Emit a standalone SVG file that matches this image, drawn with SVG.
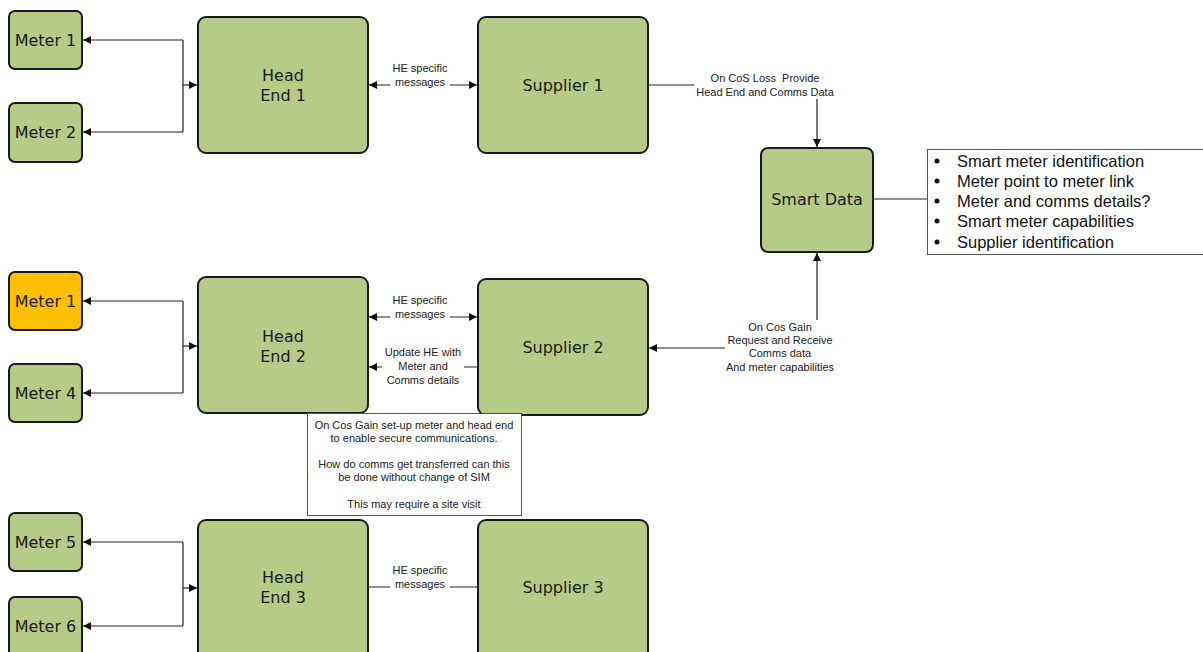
<svg xmlns="http://www.w3.org/2000/svg" width="1203" height="652" viewBox="0 0 1203 652">
  <style>
    .box { fill: #b7cb89; stroke: #1a1a1a; stroke-width: 2; }
    .alert { fill: #ffc000; stroke: #1a1a1a; stroke-width: 2; }
    .big { font-family: "DejaVu Sans", Verdana, sans-serif; font-size: 16px; fill: #1a1a1a; text-anchor: middle; }
    .small { font-family: "Liberation Sans", Arial, sans-serif; font-size: 11px; fill: #222; text-anchor: middle; }
    .list { font-family: "Liberation Sans", Arial, sans-serif; font-size: 16.5px; fill: #111; }
    .wire { fill: none; stroke: #222; stroke-width: 1.2; }
    .bg { fill: #ffffff; }
    .panel { fill: #ffffff; stroke: #555; stroke-width: 1; }
  </style>
  <defs>
    <marker id="arrow" viewBox="0 0 10 10" refX="10" refY="5" markerWidth="8" markerHeight="8" markerUnits="userSpaceOnUse" orient="auto-start-reverse">
      <path d="M0,0 L10,5 L0,10 z" fill="#111"/>
    </marker>
  </defs>

  <rect width="1203" height="652" fill="#ffffff"/>

  <!-- connectors -->
  <g id="connectors">
    <!-- group 1 -->
    <path class="wire" d="M183,40 L83,40" marker-end="url(#arrow)"/>
    <path class="wire" d="M183,132 L83,132" marker-end="url(#arrow)"/>
    <path class="wire" d="M183,40 L183,132"/>
    <path class="wire" d="M183,85 L197,85" marker-end="url(#arrow)"/>
    <path class="wire" d="M369,85 L477,85" marker-start="url(#arrow)" marker-end="url(#arrow)"/>
    <path class="wire" d="M648,85 L817,85 L817,147" marker-end="url(#arrow)"/>
    <path class="wire" d="M873,199 L927,199"/>

    <!-- group 2 -->
    <path class="wire" d="M183,301 L83,301" marker-end="url(#arrow)"/>
    <path class="wire" d="M183,393 L83,393" marker-end="url(#arrow)"/>
    <path class="wire" d="M183,301 L183,393"/>
    <path class="wire" d="M183,346 L197,346" marker-end="url(#arrow)"/>
    <path class="wire" d="M369,317 L477,317" marker-start="url(#arrow)" marker-end="url(#arrow)"/>
    <path class="wire" d="M478,367 L369,367" marker-end="url(#arrow)"/>
    <path class="wire" d="M649,348 L817,348 L817,253" marker-start="url(#arrow)" marker-end="url(#arrow)"/>

    <!-- group 3 -->
    <path class="wire" d="M183,542 L83,542" marker-end="url(#arrow)"/>
    <path class="wire" d="M183,626 L83,626" marker-end="url(#arrow)"/>
    <path class="wire" d="M183,542 L183,626"/>
    <path class="wire" d="M183,588 L197,588" marker-end="url(#arrow)"/>
    <path class="wire" d="M368,587 L478,587"/>

    <!-- connector labels -->
    <g id="lbl-he1">
      <rect class="bg" x="390" y="60" width="60" height="30"/>
      <text class="small" x="420" y="72">HE specific</text>
      <text class="small" x="420" y="86">messages</text>
    </g>
    <g id="lbl-loss">
      <rect class="bg" x="694" y="70" width="144" height="29"/>
      <text class="small" x="765" y="82">On CoS Loss &#160;Provide</text>
      <text class="small" x="765" y="96">Head End and Comms Data</text>
    </g>
    <g id="lbl-he2">
      <rect class="bg" x="390" y="292" width="60" height="30"/>
      <text class="small" x="420" y="304">HE specific</text>
      <text class="small" x="420" y="318">messages</text>
    </g>
    <g id="lbl-update">
      <rect class="bg" x="382" y="343" width="82" height="42"/>
      <text class="small" x="423" y="356">Update HE with</text>
      <text class="small" x="423" y="370">Meter and</text>
      <text class="small" x="423" y="384">Comms details</text>
    </g>
    <g id="lbl-gain">
      <rect class="bg" x="725" y="320" width="112" height="52"/>
      <text class="small" x="780" y="331">On Cos Gain</text>
      <text class="small" x="780" y="344">Request and Receive</text>
      <text class="small" x="780" y="357">Comms data</text>
      <text class="small" x="780" y="371">And meter capabilities</text>
    </g>
    <g id="lbl-he3">
      <rect class="bg" x="390" y="562" width="60" height="30"/>
      <text class="small" x="420" y="574">HE specific</text>
      <text class="small" x="420" y="588">messages</text>
    </g>
  </g>

  <!-- row 1 -->
  <g id="meter-1a">
    <rect class="box" x="9" y="11" width="73" height="58" rx="6"/>
    <text class="big" x="45.5" y="46">Meter 1</text>
  </g>
  <g id="meter-2">
    <rect class="box" x="9" y="103" width="73" height="59" rx="6"/>
    <text class="big" x="45.5" y="138">Meter 2</text>
  </g>
  <g id="head-end-1">
    <rect class="box" x="198" y="17" width="170" height="136" rx="8"/>
    <text class="big" x="283" y="81">Head</text>
    <text class="big" x="283" y="101">End 1</text>
  </g>
  <g id="supplier-1">
    <rect class="box" x="478" y="17" width="170" height="136" rx="8"/>
    <text class="big" x="563" y="91">Supplier 1</text>
  </g>
  <g id="smart-data">
    <rect class="box" x="761" y="148" width="112" height="104" rx="7"/>
    <text class="big" x="817" y="205">Smart Data</text>
  </g>
  <g id="data-list">
    <rect class="panel" x="927.5" y="149.5" width="290" height="105"/>
    <g class="list">
      <circle cx="937" cy="161" r="2.5" fill="#111"/>
      <text x="957" y="167">Smart meter identification</text>
      <circle cx="937" cy="181" r="2.5" fill="#111"/>
      <text x="957" y="187">Meter point to meter link</text>
      <circle cx="937" cy="201" r="2.5" fill="#111"/>
      <text x="957" y="207">Meter and comms details?</text>
      <circle cx="937" cy="221" r="2.5" fill="#111"/>
      <text x="957" y="227">Smart meter capabilities</text>
      <circle cx="937" cy="242" r="2.5" fill="#111"/>
      <text x="957" y="248">Supplier identification</text>
    </g>
  </g>

  <!-- row 2 -->
  <g id="meter-1b">
    <rect class="alert" x="9" y="272" width="73" height="58" rx="6"/>
    <text class="big" x="45.5" y="307">Meter 1</text>
  </g>
  <g id="meter-4">
    <rect class="box" x="9" y="364" width="73" height="58" rx="6"/>
    <text class="big" x="45.5" y="399">Meter 4</text>
  </g>
  <g id="head-end-2">
    <rect class="box" x="198" y="277" width="170" height="136" rx="8"/>
    <text class="big" x="283" y="342">Head</text>
    <text class="big" x="283" y="362">End 2</text>
  </g>
  <g id="supplier-2">
    <rect class="box" x="478" y="279" width="170" height="136" rx="8"/>
    <text class="big" x="563" y="353">Supplier 2</text>
  </g>
  <g id="gain-note">
    <rect class="panel" x="307.5" y="413.5" width="214" height="102"/>
    <text class="small" x="414" y="429">On Cos Gain set-up meter and head end</text>
    <text class="small" x="414" y="442">to enable secure communications.</text>
    <text class="small" x="414" y="468">How do comms get transferred can this</text>
    <text class="small" x="414" y="481">be done without change of SIM</text>
    <text class="small" x="414" y="508">This may require a site visit</text>
  </g>

  <!-- row 3 -->
  <g id="meter-5">
    <rect class="box" x="9" y="513" width="73" height="58" rx="6"/>
    <text class="big" x="45.5" y="548">Meter 5</text>
  </g>
  <g id="meter-6">
    <rect class="box" x="9" y="597" width="73" height="62" rx="6"/>
    <text class="big" x="45.5" y="632">Meter 6</text>
  </g>
  <g id="head-end-3">
    <rect class="box" x="198" y="520" width="170" height="140" rx="8"/>
    <text class="big" x="283" y="583">Head</text>
    <text class="big" x="283" y="603">End 3</text>
  </g>
  <g id="supplier-3">
    <rect class="box" x="478" y="520" width="170" height="140" rx="8"/>
    <text class="big" x="563" y="593">Supplier 3</text>
  </g>
</svg>
